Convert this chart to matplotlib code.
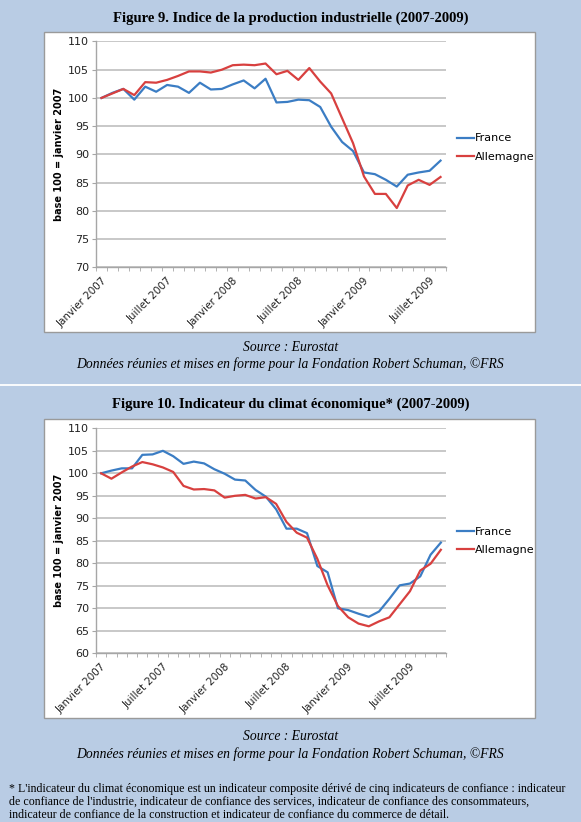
import matplotlib
matplotlib.use('Agg')
import matplotlib.pyplot as plt
from matplotlib.patches import Rectangle

# Figure 9 : indice de la production industrielle, janvier 2007 -> aout 2009
prod_france = [100.0, 100.9, 101.6, 99.7, 102.0, 101.1, 102.3, 102.0, 100.9, 102.7,
               101.5, 101.6, 102.4, 103.1, 101.7, 103.4, 99.2, 99.3, 99.7, 99.6,
               98.4, 94.9, 92.2, 90.6, 86.8, 86.5, 85.5, 84.3, 86.4, 86.8,
               87.1, 88.9]
prod_allemagne = [100.0, 100.8, 101.6, 100.5, 102.8, 102.7, 103.2, 103.9, 104.7, 104.7,
                  104.5, 105.0, 105.8, 105.9, 105.8, 106.1, 104.2, 104.8, 103.2, 105.3,
                  102.9, 100.8, 96.4, 92.0, 86.1, 83.0, 83.0, 80.5, 84.5, 85.5,
                  84.6, 86.0]

# Figure 10 : indicateur du climat economique, janvier 2007 -> octobre 2009
climat_france = [100.0, 100.6, 101.1, 101.1, 104.1, 104.2, 105.0, 103.8, 102.1, 102.6,
                 102.2, 100.9, 99.9, 98.6, 98.4, 96.3, 94.8, 92.0, 87.7, 87.7,
                 86.7, 79.4, 78.0, 70.0, 69.6, 68.8, 68.1, 69.3, 72.1, 75.1,
                 75.5, 77.1, 81.9, 84.6]
climat_allemagne = [100.0, 98.8, 100.2, 101.5, 102.5, 102.0, 101.3, 100.3, 97.2, 96.4,
                    96.5, 96.2, 94.6, 95.0, 95.2, 94.4, 94.7, 93.2, 89.2, 86.8,
                    85.7, 81.0, 75.1, 70.5, 68.0, 66.6, 66.0, 67.1, 68.0, 70.9,
                    73.8, 78.4, 79.9, 83.0]

mois_labels = ['Janvier 2007', 'Juillet 2007', 'Janvier 2008', 'Juillet 2008',
               'Janvier 2009', 'Juillet 2009']

W, H = 581, 822
BG = '#b9cce4'
BLEU = '#3b7dc4'
ROUGE = '#d8403f'
GRIS = '#a6a6a6'


def fy(y):
    # pixels depuis le haut -> fraction de figure
    return 1 - y / H


def boite(fig, x0, y0, x1, y1):
    r = Rectangle((x0 / W, fy(y1)), (x1 - x0) / W, (y1 - y0) / H,
                  transform=fig.transFigure, facecolor='white',
                  edgecolor='#9a9a9a', linewidth=1.0, zorder=-10)
    fig.patches.append(r)


def graphique(fig, top, bottom, fr, de, ymin, ymax, leg_y):
    ax = fig.add_axes([96 / W, fy(bottom), (446 - 96) / W, (bottom - top) / H])
    ax.set_facecolor('none')
    n = len(fr)
    x = list(range(n))
    ax.plot(x, fr, color=BLEU, lw=1.6, label='France', zorder=3)
    ax.plot(x, de, color=ROUGE, lw=1.6, label='Allemagne', zorder=3)
    ax.set_xlim(-0.5, n - 0.5)
    ax.set_ylim(ymin, ymax)
    ax.set_yticks(range(ymin, ymax + 1, 5))
    ax.yaxis.grid(True, color='#c4c4c4', lw=1.3)
    ax.set_axisbelow(True)
    for s in ['top', 'right']:
        ax.spines[s].set_visible(False)
    for s in ['left', 'bottom']:
        ax.spines[s].set_color(GRIS)
        ax.spines[s].set_linewidth(1.0)
    ax.tick_params(axis='y', length=3, color=GRIS, labelsize=8, labelcolor='#222222', pad=2)
    ax.set_xticks([i for i in range(0, n, 6)])
    ax.set_xticklabels(mois_labels[:len(range(0, n, 6))], rotation=45, ha='right',
                       rotation_mode='anchor', fontsize=7.5, color='#222222')
    ax.tick_params(axis='x', which='major', length=0, pad=6)
    ax.set_xticks([i - 0.5 for i in range(n + 1)], minor=True)
    ax.tick_params(axis='x', which='minor', length=3, color=GRIS)
    ax.set_ylabel('base 100 = janvier 2007', fontsize=7, fontweight='bold', labelpad=3)
    ax.legend(loc='center left', bbox_to_anchor=(1.02, leg_y), frameon=False,
              fontsize=8, handlelength=1.5, handletextpad=0.1, labelspacing=0.75,
              borderaxespad=0)
    return ax


fig = plt.figure(figsize=(W / 100, H / 100), dpi=100, facecolor=BG)

# panneau 1
boite(fig, 43.5, 32.5, 535, 332.5)
fig.text(0.5, fy(18.5), 'Figure 9. Indice de la production industrielle (2007-2009)',
         ha='center', va='center', family='Liberation Serif', fontweight='bold', fontsize=10.5)
ax1 = graphique(fig, 41.5, 267.3, prod_france, prod_allemagne, 70, 110, 0.53)
fig.text(0.5, fy(347), 'Source : Eurostat', ha='center', va='center',
         family='Liberation Serif', style='italic', fontsize=9.8)
fig.text(0.5, fy(364.5), 'Données réunies et mises en forme pour la Fondation Robert Schuman, \u00a9FRS',
         ha='center', va='center', family='Liberation Serif', style='italic', fontsize=9.8)

# separation blanche
fig.add_artist(plt.Line2D([0, 1], [fy(385), fy(385)], transform=fig.transFigure,
                          color='white', lw=1.3))

# panneau 2
boite(fig, 43.5, 419, 535, 718)
fig.text(0.5, fy(404.5), 'Figure 10. Indicateur du climat économique* (2007-2009)',
         ha='center', va='center', family='Liberation Serif', fontweight='bold', fontsize=10.5)
ax2 = graphique(fig, 428.3, 653.3, climat_france, climat_allemagne, 60, 110, 0.5)
fig.text(0.5, fy(736.5), 'Source : Eurostat', ha='center', va='center',
         family='Liberation Serif', style='italic', fontsize=9.8)
fig.text(0.5, fy(754), 'Données réunies et mises en forme pour la Fondation Robert Schuman, \u00a9FRS',
         ha='center', va='center', family='Liberation Serif', style='italic', fontsize=9.8)

note = ("* L'indicateur du climat économique est un indicateur composite dérivé de cinq indicateurs de confiance : indicateur\n"
        "de confiance de l'industrie, indicateur de confiance des services, indicateur de confiance des consommateurs,\n"
        "indicateur de confiance de la construction et indicateur de confiance du commerce de détail.")
fig.text(9 / W, fy(782.5), note, ha='left', va='top', family='Liberation Serif',
         fontsize=8.6, linespacing=1.15)

fig.savefig('out.png', dpi=100, facecolor=BG)
